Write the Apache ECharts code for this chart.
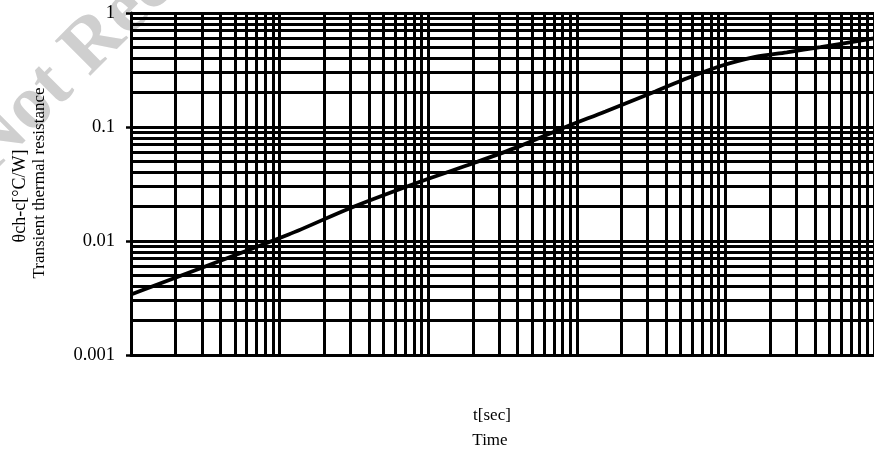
<!DOCTYPE html>
<html>
<head>
<meta charset="utf-8">
<script src="https://cdn.jsdelivr.net/npm/echarts@6/dist/echarts.min.js"></script>
<style>html,body{margin:0;padding:0;background:#fff}#c{width:874px;height:451px}</style>
</head>
<body>
<div id="c"></div>
<script>
// Curve (time in seconds, thermal resistance in °C/W)
var times = [1e-4, 0.00115, 0.003, 0.0089, 0.0203, 0.041, 0.081, 0.156, 0.337, 0.558, 0.94, 1.56, 2.59, 4.37, 10];
var values = [0.0034, 0.0114, 0.0195, 0.0333, 0.0483, 0.0676, 0.098, 0.137, 0.205, 0.269, 0.345, 0.411, 0.452, 0.503, 0.6];
// Grid (decades and the 1..9 mantissas of a log grid)
var xDecades = [1e-4, 1e-3, 1e-2, 1e-1, 1];
var yDecades = [0.001, 0.01, 0.1];
var mantissas = [1, 2, 3, 4, 5, 6, 7, 8, 9];
var xRange = [1e-4, 10];
var yRange = [0.001, 1];
var yTickLabels = ['0.001', '0.01', '0.1', '1'];
var yTitle1 = 'θch-c[°C/W]';
var yTitle2 = 'Transient thermal resistance';
var xTitle1 = 't[sec]';
var xTitle2 = 'Time';
var watermark = 'Not Recommended for New Design';

var FONT = '"Liberation Serif", "Times New Roman", serif';
var gridSegs = [];
xDecades.forEach(function (d) {
  mantissas.forEach(function (m) {
    var x = +(d * m).toPrecision(3);
    gridSegs.push({ coords: [[x, yRange[0]], [x, yRange[1]]] });
  });
});
gridSegs.push({ coords: [[xRange[1], yRange[0]], [xRange[1], yRange[1]]] });
yDecades.forEach(function (d) {
  mantissas.forEach(function (m) {
    var y = +(d * m).toPrecision(3);
    gridSegs.push({ coords: [[xRange[0], y], [xRange[1], y]] });
  });
});
gridSegs.push({ coords: [[xRange[0], yRange[1]], [xRange[1], yRange[1]]] });

function txt(x, y, rot, s, font, fill, align) {
  return { type: 'text', x: x, y: y, rotation: rot,
    style: { text: s, x: 0, y: 0, fill: fill, font: font,
      align: align, verticalAlign: 'middle', textAlign: align, textVerticalAlign: 'middle' } };
}

var chart = echarts.init(document.getElementById('c'), null, { renderer: 'canvas' });
chart.setOption({
  backgroundColor: '#fff',
  animation: false,
  grid: { left: 131, top: 13, width: 750, height: 342, containLabel: false },
  xAxis: {
    type: 'log', logBase: 10, min: xRange[0], max: xRange[1],
    axisLine: { show: true, lineStyle: { color: '#000', width: 3 } },
    axisTick: { show: false }, axisLabel: { show: false },
    splitLine: { show: false }, minorTick: { show: false }
  },
  yAxis: {
    type: 'log', logBase: 10, min: yRange[0], max: yRange[1],
    axisLine: { show: true, lineStyle: { color: '#000', width: 3 } },
    axisTick: { show: true, length: 5, lineStyle: { color: '#000', width: 2.5 } },
    axisLabel: {
      show: true, color: '#000', fontFamily: FONT, fontSize: 18.5, margin: 16,
      formatter: function (v) {
        var i = Math.round(Math.log10(v) + 3);
        return yTickLabels[i] !== undefined ? yTickLabels[i] : '';
      }
    },
    splitLine: { show: false }
  },
  graphic: [
    Object.assign(txt(-22, 160, Math.PI / 4, watermark, 'bold 76px ' + FONT, '#cfcfcf', 'left'), { z: -10 }),
    txt(20, 196, Math.PI / 2, yTitle1, '18px ' + FONT, '#000', 'center'),
    txt(40, 183, Math.PI / 2, yTitle2, '17px ' + FONT, '#000', 'center'),
    txt(492, 416, 0, xTitle1, '17px ' + FONT, '#000', 'center'),
    txt(490, 441, 0, xTitle2, '17px ' + FONT, '#000', 'center')
  ],
  series: [
    {
      type: 'lines', coordinateSystem: 'cartesian2d', silent: true, z: 2,
      polyline: false, symbol: ['none', 'none'],
      lineStyle: { color: '#000', width: 3, opacity: 1, type: 'solid' },
      data: gridSegs
    },
    {
      type: 'line', z: 5, smooth: 0.3, showSymbol: false, symbol: 'none',
      lineStyle: { color: '#000', width: 3.8 },
      data: times.map(function (t, i) { return [t, values[i]]; })
    }
  ]
});
</script>
</body>
</html>
